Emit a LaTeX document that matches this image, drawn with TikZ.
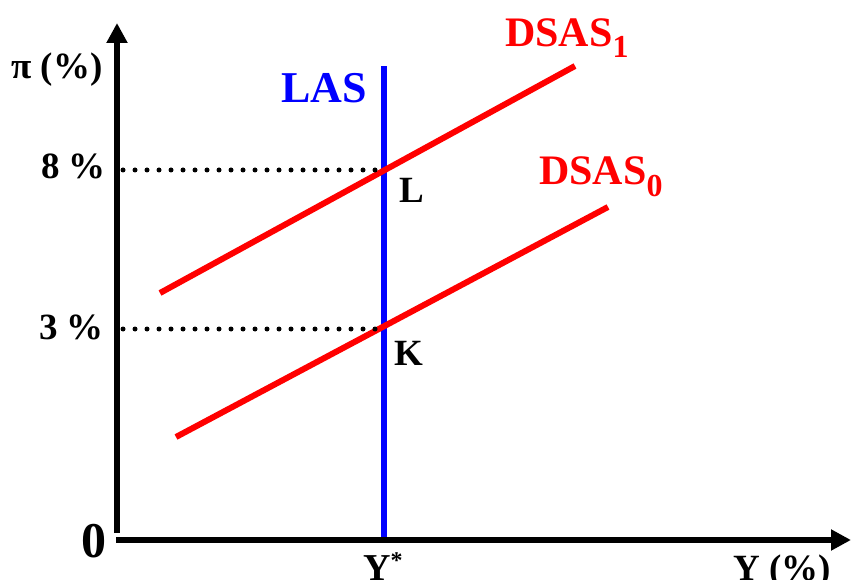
\documentclass[tikz,border=0pt]{standalone}
\usepackage{fontspec}
\setmainfont{Liberation Serif}
\usetikzlibrary{arrows.meta}
\begin{document}
\begin{tikzpicture}[x=1pt,y=-1pt,
  axis/.style={line width=6pt,-{Triangle[length=20pt,width=20pt]}},
  curve/.style={line width=6pt,red},
  vline/.style={line width=6pt,blue},
  guide/.style={line width=5pt,line cap=round,dash pattern=on 0pt off 12pt},
  lbl/.style={inner sep=0pt,anchor=base west,font=\bfseries}]
\useasboundingbox (0,0) rectangle (852,580);
% axes
\coordinate (yb) at (117,533);
\coordinate (yt) at (117,23);
\coordinate (xl) at (116,540);
\coordinate (xr) at (851,540);
\draw[axis] (yb) -- (yt);
\draw[axis] (xl) -- (xr);
% LAS
\coordinate (lasT) at (384,66);
\coordinate (lasB) at (384,537);
\draw[vline] (lasB) -- (lasT);
% DSAS curves
\coordinate (d1a) at (160,293);
\coordinate (d1b) at (575,66);
\coordinate (d0a) at (176,437);
\coordinate (d0b) at (608,207);
\draw[curve] (d1a) -- (d1b);
\draw[curve] (d0a) -- (d0b);
% guides
\coordinate (g8a) at (123,170);
\coordinate (g8b) at (380,170);
\coordinate (g3a) at (123,329);
\coordinate (g3b) at (380,329);
\draw[guide] (g8a) -- (g8b);
\draw[guide] (g3a) -- (g3b);
% labels
\node[lbl,font=\bfseries\fontsize{37}{37}\selectfont] (pi) at (11,79) {π (\%)};
\node[lbl,font=\bfseries\fontsize{37}{37}\selectfont] (p8) at (41,179) {8 \%};
\node[lbl,font=\bfseries\fontsize{37}{37}\selectfont] (p3) at (39,339) {3 \%};
\node[lbl,font=\bfseries\fontsize{50}{50}\selectfont] (zero) at (81,557) {0};
\node[lbl,font=\bfseries\fontsize{38}{38}\selectfont] (ystar) at (363,580) {Y\raisebox{12pt}{\fontsize{24}{24}\selectfont *}};
\node[lbl,font=\bfseries\fontsize{37}{37}\selectfont] (ypct) at (733,580) {Y (\%)};
\node[lbl,font=\bfseries\fontsize{37}{37}\selectfont] (L) at (399,203) {L};
\node[lbl,font=\bfseries\fontsize{37}{37}\selectfont] (K) at (394,365) {K};
\node[lbl,blue,font=\bfseries\fontsize{44}{44}\selectfont] (las) at (281,103) {LAS};
\node[lbl,red,font=\bfseries\fontsize{42}{42}\selectfont] (ds1) at (505,47) {DSAS\raisebox{-11pt}{\fontsize{32}{32}\selectfont 1}};
\node[lbl,red,font=\bfseries\fontsize{42}{42}\selectfont] (ds0) at (539,185) {DSAS\raisebox{-12pt}{\fontsize{32}{32}\selectfont 0}};
\end{tikzpicture}
\end{document}
